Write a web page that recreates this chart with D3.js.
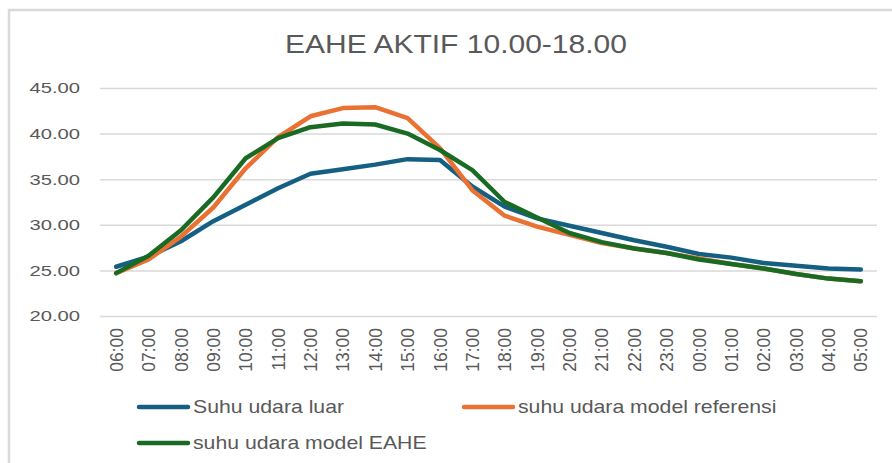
<!DOCTYPE html>
<html>
<head>
<meta charset="utf-8">
<script src="https://cdn.jsdelivr.net/npm/d3@7"></script>
<style>
    body { margin: 0; background: #fff; }
    text { font-family: "Liberation Sans", Arial, sans-serif; fill: #595959; }
</style>
</head>
<body>
<div class="viewport"></div>
<script>
var hours = ["06:00", "07:00", "08:00", "09:00", "10:00", "11:00", "12:00", "13:00",
    "14:00", "15:00", "16:00", "17:00", "18:00", "19:00", "20:00", "21:00", "22:00",
    "23:00", "00:00", "01:00", "02:00", "03:00", "04:00", "05:00"];

var suhuLuar = [25.4, 26.5, 28.2, 30.4, 32.2, 34.0, 35.6, 36.1, 36.6, 37.2, 37.1, 34.2,
    32.0, 30.7, 29.9, 29.1, 28.3, 27.6, 26.8, 26.4, 25.8, 25.5, 25.2, 25.1];

var modelReferensi = [24.7, 26.2, 28.7, 31.9, 36.2, 39.6, 41.9, 42.8, 42.9, 41.7, 38.4, 33.8,
    31.0, 29.8, 28.9, 28.0, 27.4, 26.9, 26.3, 25.7, 25.2, 24.6, 24.1, 23.8];

var modelEahe = [24.7, 26.6, 29.4, 33.0, 37.3, 39.5, 40.7, 41.1, 41.0, 40.0, 38.2, 36.0,
    32.5, 30.8, 29.1, 28.1, 27.4, 26.9, 26.2, 25.7, 25.2, 24.6, 24.1, 23.8];

var yTicks = [20, 25, 30, 35, 40, 45];

var seriesNames = ["Suhu udara luar", "suhu udara model referensi", "suhu udara model EAHE"];
var seriesColors = ["#156082", "#e97132", "#196b24"];

var chartTitle = "EAHE AKTIF 10.00-18.00";

function letsGo() {

    var width = 892,
        height = 463;

    var plot = { left: 100, right: 877, top: 88, bottom: 316 };

    var svg = d3.select(".viewport").append("svg")
        .attr("width", width)
        .attr("height", height);

    // chart area frame
    svg.append("rect")
        .attr("x", 9).attr("y", 10)
        .attr("width", 900).attr("height", 480)
        .attr("fill", "none")
        .attr("stroke", "#d9d9d9")
        .attr("stroke-width", 2.5);

    var x = d3.scalePoint()
        .domain(hours)
        .range([plot.left, plot.right])
        .padding(0.5);

    var y = d3.scaleLinear()
        .domain([20, 45])
        .range([plot.bottom, plot.top]);

    // title, stretched a bit to match the wide office font
    svg.append("text")
        .attr("transform", "translate(456,53) scale(1.2,1)")
        .attr("text-anchor", "middle")
        .style("font-size", "25px")
        .text(chartTitle);

    // y axis with grid
    var yAxis = svg.append("g")
        .attr("transform", "translate(" + plot.left + ",0)")
        .call(d3.axisLeft(y)
            .tickValues(yTicks)
            .tickFormat(d3.format(".2f"))
            .tickSizeInner(-(plot.right - plot.left))
            .tickSizeOuter(0)
            .tickPadding(20));

    yAxis.select(".domain").remove();
    yAxis.selectAll(".tick line")
        .attr("stroke", "#d9d9d9")
        .attr("stroke-width", 1.5);
    yAxis.selectAll(".tick text")
        .attr("x", -20 / 1.35)
        .attr("transform", "scale(1.35,1)")
        .style("font-size", "15px")
        .style("fill", "#595959");

    // x axis labels, rotated
    var xAxis = svg.append("g")
        .attr("transform", "translate(0," + plot.bottom + ")")
        .call(d3.axisBottom(x).tickSize(0));

    xAxis.select(".domain").remove();
    xAxis.selectAll(".tick text")
        .attr("transform", "rotate(-90)")
        .attr("text-anchor", "end")
        .attr("x", -12)
        .attr("y", 0)
        .attr("dy", "0.35em")
        .style("font-size", "17.5px")
        .style("fill", "#595959");

    // lines
    var line = d3.line()
        .x(function(d, i) { return x(hours[i]); })
        .y(function(d) { return y(d); });

    var allSeries = [suhuLuar, modelReferensi, modelEahe];

    svg.selectAll("path.series")
        .data(allSeries)
        .enter().append("path")
        .attr("class", "series")
        .attr("d", line)
        .attr("fill", "none")
        .attr("stroke", function(d, i) { return seriesColors[i]; })
        .attr("stroke-width", 4.5)
        .attr("stroke-linejoin", "round")
        .attr("stroke-linecap", "round");

    // legend
    var legendPos = [[137, 407], [462, 407], [137, 443]];

    var leg = svg.selectAll("g.legend")
        .data(seriesNames)
        .enter().append("g")
        .attr("class", "legend")
        .attr("transform", function(d, i) { return "translate(" + legendPos[i][0] + "," + legendPos[i][1] + ")"; });

    leg.append("line")
        .attr("x1", 2).attr("x2", 51)
        .attr("y1", 0).attr("y2", 0)
        .attr("stroke", function(d, i) { return seriesColors[i]; })
        .attr("stroke-width", 4.5)
        .attr("stroke-linecap", "round");

    leg.append("text")
        .attr("transform", "translate(56,6) scale(1.18,1)")
        .style("font-size", "18px")
        .text(function(d) { return d; });
}

letsGo();
</script>
</body>
</html>
